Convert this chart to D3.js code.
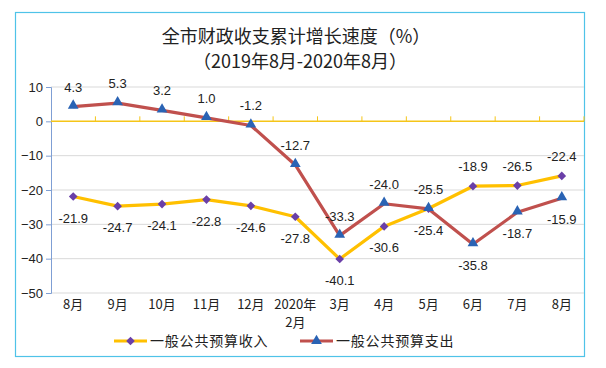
<!DOCTYPE html>
<html>
<head>
<meta charset="utf-8">
<script src="https://cdn.jsdelivr.net/npm/d3@7"></script>
<style>
  body { margin: 0; background: #fff; }
  svg { font-family: "Noto Sans CJK SC", "Noto Sans", sans-serif; }
</style>
</head>
<body>
<div id="chart"></div>
<script>
const categories = ["8月", "9月", "10月", "11月", "12月", "2020年\n2月", "3月", "4月", "5月", "6月", "7月", "8月"];
const incomeValues = [-21.9, -24.7, -24.1, -22.8, -24.6, -27.8, -40.1, -30.6, -25.4, -18.9, -18.7, -15.9];
const expenseValues = [4.3, 5.3, 3.2, 1.0, -1.2, -12.7, -33.3, -24.0, -25.5, -35.8, -26.5, -22.4];
// labels as printed on the chart: upper row and lower row at each month
const upperLabels = ["4.3", "5.3", "3.2", "1.0", "-1.2", "-12.7", "-33.3", "-24.0", "-25.5", "-18.9", "-26.5", "-22.4"];
const lowerLabels = ["-21.9", "-24.7", "-24.1", "-22.8", "-24.6", "-27.8", "-40.1", "-30.6", "-25.4", "-35.8", "-18.7", "-15.9"];
const yTicks = [10, 0, -10, -20, -30, -40, -50];
const seriesNames = ["一般公共预算收入", "一般公共预算支出"];

var width = 606, height = 368;
var margin = { left: 51, top: 87, right: 22, bottom: 75 };

var svg = d3.select("#chart").append("svg")
    .attr("width", width)
    .attr("height", height);

// outer frame
svg.append("rect")
    .attr("x", 15.5).attr("y", 12.5)
    .attr("width", 569).attr("height", 344)
    .attr("fill", "#fff")
    .attr("stroke", "#4fc3e8")
    .attr("stroke-width", 1.2);

svg.append("text")
    .attr("x", 296).attr("y", 43)
    .attr("text-anchor", "middle")
    .attr("font-size", 18)
    .attr("fill", "#222")
    .text("全市财政收支累计增长速度（%）");
svg.append("text")
    .attr("x", 300).attr("y", 68)
    .attr("text-anchor", "middle")
    .attr("font-size", 18)
    .attr("fill", "#222")
    .text("（2019年8月-2020年8月）");

var x = d3.scaleBand()
    .domain(d3.range(categories.length))
    .range([margin.left, width - margin.right]);
var y = d3.scaleLinear()
    .domain([-50, 10])
    .range([height - margin.bottom, margin.top]);
var cx = i => x(i) + x.bandwidth() / 2;

// gridlines
svg.append("g")
    .selectAll("line")
    .data(yTicks.filter(d => d !== 0))
    .enter().append("line")
    .attr("x1", margin.left).attr("x2", width - margin.right)
    .attr("y1", d => y(d)).attr("y2", d => y(d))
    .attr("stroke", "#d9d9d9")
    .attr("stroke-width", 1);

// y axis
var yAxis = svg.append("g")
    .attr("transform", `translate(${margin.left},0)`)
    .call(d3.axisLeft(y).tickValues(yTicks).tickSize(5).tickPadding(3));
yAxis.select(".domain").attr("stroke", "#7f9fd4");
yAxis.selectAll(".tick line").attr("stroke", "#7f9fd4");
yAxis.selectAll("text").attr("font-size", 13).attr("fill", "#222")
    .attr("font-family", "'Liberation Sans', sans-serif");

// zero axis with upward ticks at band edges
svg.append("line")
    .attr("x1", margin.left).attr("x2", width - margin.right)
    .attr("y1", y(0)).attr("y2", y(0))
    .attr("stroke", "#f5c518").attr("stroke-width", 1.5);
svg.append("g")
    .selectAll("line")
    .data(d3.range(1, categories.length + 1))
    .enter().append("line")
    .attr("x1", d => margin.left + d * x.bandwidth())
    .attr("x2", d => margin.left + d * x.bandwidth())
    .attr("y1", y(0)).attr("y2", y(0) - 5)
    .attr("stroke", "#f5c518").attr("stroke-width", 1);

// category labels
var catG = svg.append("g");
categories.forEach((c, i) => {
    var t = catG.append("text")
        .attr("text-anchor", "middle")
        .attr("font-size", 13)
        .attr("fill", "#222");
    c.split("\n").forEach((s, k) => {
        t.append("tspan")
            .attr("x", cx(i))
            .attr("y", 309 + k * 18)
            .text(s);
    });
});

var line = d3.line()
    .x((d, i) => cx(i))
    .y(d => y(d));

svg.append("path")
    .datum(incomeValues)
    .attr("d", line)
    .attr("fill", "none")
    .attr("stroke", "#ffc000")
    .attr("stroke-width", 3.2)
    .attr("stroke-linejoin", "round");
svg.append("path")
    .datum(expenseValues)
    .attr("d", line)
    .attr("fill", "none")
    .attr("stroke", "#c0504d")
    .attr("stroke-width", 3.2)
    .attr("stroke-linejoin", "round");

var diamond = d3.symbol().type(d3.symbolDiamond2).size(48);
var triangle = d3.symbol().type(d3.symbolTriangle).size(50);

svg.append("g").selectAll("path")
    .data(incomeValues)
    .enter().append("path")
    .attr("d", diamond)
    .attr("transform", (d, i) => `translate(${cx(i)},${y(d)})`)
    .attr("fill", "#6a3fa8");
svg.append("g").selectAll("path")
    .data(expenseValues)
    .enter().append("path")
    .attr("d", triangle)
    .attr("transform", (d, i) => `translate(${cx(i)},${y(d) - 1})`)
    .attr("fill", "#2a63b4");

// data labels
var labelG = svg.append("g")
    .attr("font-size", 13)
    .attr("fill", "#222")
    .attr("text-anchor", "middle")
    .attr("font-family", "'Liberation Sans', sans-serif");
categories.forEach((c, i) => {
    var hi = Math.max(incomeValues[i], expenseValues[i]);
    var lo = Math.min(incomeValues[i], expenseValues[i]);
    labelG.append("text")
        .attr("x", cx(i)).attr("y", y(hi) - 15)
        .text(upperLabels[i]);
    labelG.append("text")
        .attr("x", cx(i)).attr("y", y(lo) + 26)
        .text(lowerLabels[i]);
});

// legend
var legend = [
    { name: seriesNames[0], color: "#ffc000", sym: diamond, mark: "#6a3fa8", x: 114 },
    { name: seriesNames[1], color: "#c0504d", sym: triangle, mark: "#2a63b4", x: 300 }
];
var lg = svg.append("g");
legend.forEach(l => {
    lg.append("line")
        .attr("x1", l.x).attr("x2", l.x + 33)
        .attr("y1", 341).attr("y2", 341)
        .attr("stroke", l.color).attr("stroke-width", 3.2);
    lg.append("path")
        .attr("d", l.sym)
        .attr("transform", `translate(${l.x + 16.5},341)`)
        .attr("fill", l.mark);
    lg.append("text")
        .attr("x", l.x + 36).attr("y", 346)
        .attr("font-size", 14)
        .attr("letter-spacing", 0.8)
        .attr("fill", "#222")
        .text(l.name);
});
</script>
</body>
</html>
